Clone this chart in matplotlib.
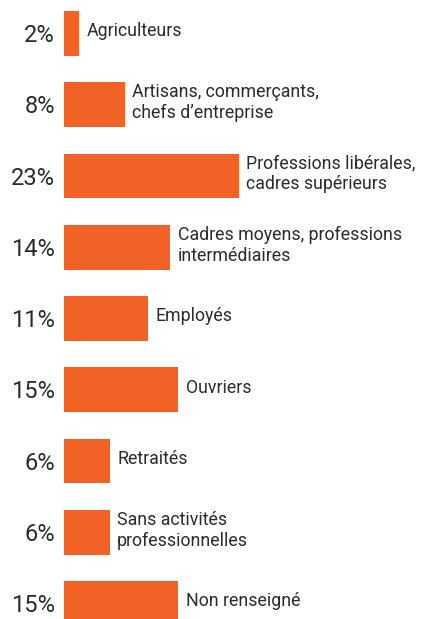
import numpy as np
import matplotlib.pyplot as plt
from matplotlib import rcParams

rcParams['font.family'] = ['Roboto', 'DejaVu Sans']

categories = ['Agriculteurs',
              'Artisans, commerçants,\nchefs d\u2019entreprise',
              'Professions libérales,\ncadres supérieurs',
              'Cadres moyens, professions\nintermédiaires',
              'Employés',
              'Ouvriers',
              'Retraités',
              'Sans activités\nprofessionnelles',
              'Non renseigné']
values = [2, 8, 23, 14, 11, 15, 6, 6, 15]
pct_labels = ['2%', '8%', '23%', '14%', '11%', '15%', '6%', '6%', '15%']

orange = '#f26125'
text_col = '#2b2b2b'

fig = plt.figure(figsize=(4.21, 6.19), dpi=100)
ax = fig.add_axes([0, 0, 1, 1])

pos = np.arange(len(values))
ax.barh(pos, values, height=0.63, color=orange)

for y, v, pl, cat in zip(pos, values, pct_labels, categories):
    ax.text(-1.2, y + 0.03, pl, ha='right', va='center',
            fontsize=17, color=text_col)
    ax.text(v + 1.0, y - 0.03, cat, ha='left', va='center',
            fontsize=12.8, color=text_col, linespacing=1.2)

ax.set_xlim(-64 / 7.6, (421 - 64) / 7.6)
ax.set_ylim(8.217, -0.47)
ax.axis('off')

fig.savefig('out.png', dpi=100)
